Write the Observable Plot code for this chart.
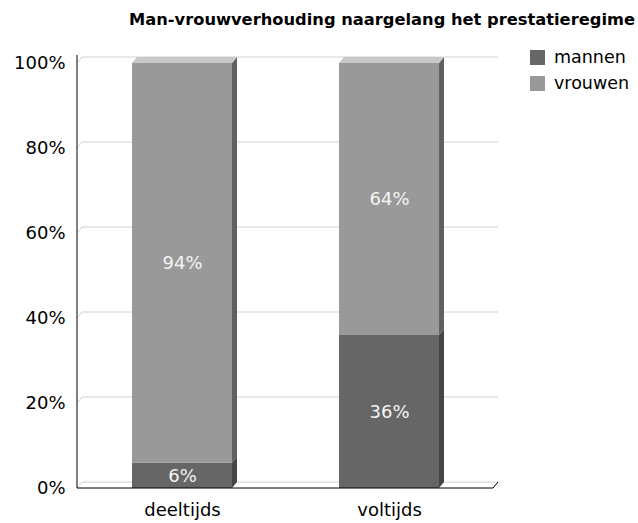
<!DOCTYPE html>
<html><head><meta charset="utf-8">
<script src="https://cdn.jsdelivr.net/npm/d3@7"></script>
<script src="https://cdn.jsdelivr.net/npm/@observablehq/plot@0.6"></script>
<style>
body{margin:0;background:#fff;font-family:"DejaVu Sans",sans-serif;}
#wrap{position:relative;width:638px;height:523px;overflow:hidden;}
#title{position:absolute;top:10px;left:382px;transform:translateX(-50%);white-space:nowrap;font-weight:bold;font-size:16.3px;color:#000;}
#chart{position:absolute;top:36px;left:0;}
#legend{position:absolute;left:530px;top:44px;font-size:17.5px;color:#000;}
.item{display:flex;align-items:center;height:26px;}
.sw{width:15px;height:15px;margin-right:9px;flex:none;}
</style></head>
<body><div id="wrap"><div id="title">Man-vrouwverhouding naargelang het prestatieregime</div><div id="chart"></div><div id="legend"></div></div>
<script>
const categories = ["deeltijds", "voltijds"];
const series = ["mannen", "vrouwen"];
const mannen = [6, 36];
const vrouwen = [94, 64];
const yTicks = [0, 20, 40, 60, 80, 100];
const frontColors = ["#666666", "#999999"];
const sideColors = ["#454545", "#606060"];
const topColor = "#c8c8c8";
const gridColor = "#d0d0d0";

const DX = 5, DY = -6;

const data = categories.flatMap((c, i) => [
  {regime: c, geslacht: series[0], pct: mannen[i]},
  {regime: c, geslacht: series[1], pct: vrouwen[i]}
]);

function grid(index, scales, values, dims) {
  const {y} = scales;
  const x0 = dims.marginLeft, x1 = dims.width - dims.marginRight;
  const g = d3.create("svg:g").attr("fill", "none");
  yTicks.forEach(t => {
    const yy = y(t);
    g.append("path").attr("d", `M${x0},${yy}L${x0 + DX},${yy + DY}H${x1 + DX}`).attr("stroke", gridColor);
  });
  return g.node();
}

function depth(index, scales) {
  const {x, y} = scales;
  const bw = x.bandwidth();
  const g = d3.create("svg:g");
  categories.forEach((c, i) => {
    const x0 = x(c), x1 = x0 + bw;
    let acc = 0;
    [mannen[i], vrouwen[i]].forEach((v, k) => {
      const yb = y(acc), yt = y(acc + v);
      acc += v;
      g.append("path").attr("d", `M${x1},${yt}L${x1 + DX},${yt + DY}L${x1 + DX},${yb + DY}L${x1},${yb}Z`).attr("fill", sideColors[k]);
    });
    const yt = y(acc);
    g.append("path").attr("d", `M${x0},${yt}L${x0 + DX},${yt + DY}L${x1 + DX},${yt + DY}L${x1},${yt}Z`).attr("fill", topColor);
  });
  return g.node();
}

function axes(index, scales, values, dims) {
  const {y} = scales;
  const x0 = dims.marginLeft, x1 = dims.width - dims.marginRight;
  const g = d3.create("svg:g").attr("fill", "none").attr("stroke", "#000");
  const y0 = y(0), yTop = y(100);
  g.append("path").attr("d", `M${x0},${yTop + DY - 2}V${y0}`);
  g.append("path").attr("d", `M${x0},${y0}H${x1}L${x1 + DX},${y0 + DY}`);
  return g.node();
}

const plot = Plot.plot({
  width: 638, height: 487,
  marginLeft: 77, marginRight: 145, marginTop: 27, marginBottom: 35,
  style: {fontFamily: "DejaVu Sans", fontSize: "18px", color: "#000", background: "transparent"},
  x: {domain: categories, paddingInner: 0.519, paddingOuter: 0.26, axis: null},
  y: {domain: [0, 100], axis: null},
  color: {domain: series, range: frontColors},
  marks: [
    grid,
    depth,
    Plot.barY(data, {x: "regime", y: "pct", fill: "geslacht"}),
    Plot.text(data, Plot.stackY({x: "regime", y: "pct", text: d => d.pct + "%", fill: "#f4f4f4", fontSize: 18})),
    Plot.axisY(yTicks, {tickSize: 0, tickPadding: 12, tickFormat: d => d + "%", label: null, fontSize: 18}),
    Plot.axisX(categories, {tickSize: 0, tickPadding: 15, label: null, fontSize: 18}),
    axes
  ]
});
document.getElementById("chart").appendChild(plot);

const legend = document.getElementById("legend");
series.forEach((s, k) => {
  const it = document.createElement("div");
  it.className = "item";
  it.innerHTML = `<div class="sw" style="background:${frontColors[k]}"></div><span>${s}</span>`;
  legend.appendChild(it);
});
</script>
</body></html>
